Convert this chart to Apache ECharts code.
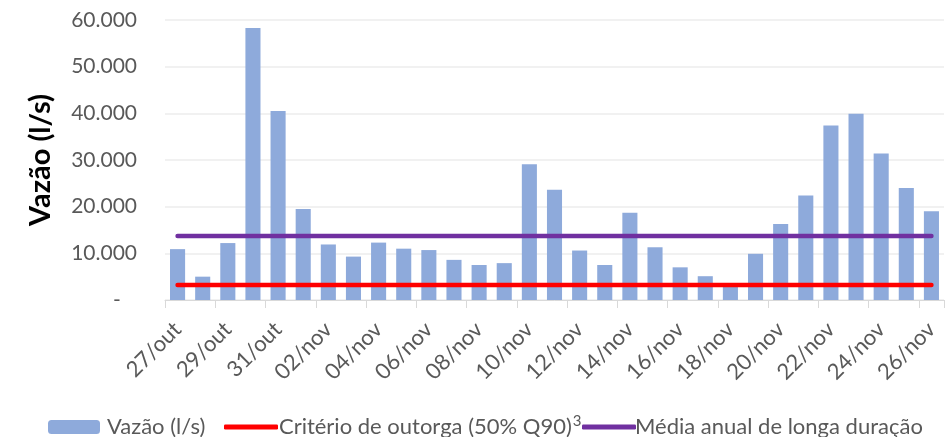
<!DOCTYPE html>
<html>
<head>
<meta charset="utf-8">
<script src="https://cdn.jsdelivr.net/npm/echarts@6/dist/echarts.min.js"></script>
<style>
html,body{margin:0;padding:0;background:#fff;}
#chart{width:949px;height:437px;}
</style>
</head>
<body>
<div id="chart"></div>
<script>
const categories = ["27/out","28/out","29/out","30/out","31/out","01/nov","02/nov","03/nov","04/nov","05/nov","06/nov","07/nov","08/nov","09/nov","10/nov","11/nov","12/nov","13/nov","14/nov","15/nov","16/nov","17/nov","18/nov","19/nov","20/nov","21/nov","22/nov","23/nov","24/nov","25/nov","26/nov"];
const vazao = [10900,5000,12200,58300,40500,19500,11900,9300,12300,11000,10700,8600,7500,7900,29100,23600,10600,7500,18700,11300,7000,5100,2800,9900,16300,22400,37400,39900,31400,24000,19000];
const criterioOutorga = 3200;
const mediaLongaDuracao = 13700;
const criterioSeries = categories.map(() => criterioOutorga);
const mediaSeries = categories.map(() => mediaLongaDuracao);
const yTicks = [0,10000,20000,30000,40000,50000,60000];

const FONT = 'Lato';
function fmt(v){
  if (v === 0) return '-   ';
  return String(v).replace(/\B(?=(\d{3})+(?!\d))/g,'.');
}
const chart = echarts.init(document.getElementById('chart'), null, {renderer:'canvas'});
chart.setOption({
  backgroundColor:'#ffffff',
  animation:false,
  textStyle:{fontFamily:FONT},
  grid:{left:165,right:5,top:20,bottom:137,containLabel:false},
  xAxis:{
    type:'category',
    data:categories,
    boundaryGap:true,
    axisLine:{lineStyle:{color:'#d9d9d9',width:1}},
    axisTick:{show:true,interval:1,length:8,lineStyle:{color:'#d9d9d9'}},
    axisLabel:{interval:1,rotate:45,margin:26,color:'#595959',fontSize:22,fontFamily:FONT}
  },
  yAxis:{
    type:'value',
    min:yTicks[0],max:yTicks[yTicks.length-1],interval:10000,
    name:'Vazão (l/s)',
    nameLocation:'middle',
    nameGap:110,
    nameTextStyle:{fontSize:29,fontWeight:'bold',color:'#000',fontFamily:FONT},
    axisLine:{show:false},
    axisTick:{show:false},
    splitLine:{lineStyle:{color:'#ececec',width:1.5}},
    axisLabel:{formatter:fmt,margin:28,color:'#595959',fontSize:21,fontFamily:FONT}
  },
  legend:[
    {data:['Vazão (l/s)'],left:43,top:411,itemWidth:52,itemHeight:14,
     textStyle:{color:'#595959',fontSize:22,fontFamily:FONT,padding:[0,0,0,2]}},
    {data:[{name:'Critério de outorga (50% Q90)',icon:'roundRect'}],left:219,top:409,itemWidth:54,itemHeight:5,
     formatter:function(n){return '{a|'+n+'}{s|3}';},
     textStyle:{color:'#595959',fontSize:22,fontFamily:FONT,padding:[0,0,0,-4],
       rich:{a:{color:'#595959',fontSize:22,lineHeight:26,fontFamily:FONT},
             s:{color:'#595959',fontSize:15,lineHeight:15,fontFamily:FONT,verticalAlign:'top',padding:[0,0,0,1]}}}},
    {data:[{name:'Média anual de longa duração',icon:'roundRect'}],left:577,top:409,itemWidth:54,itemHeight:5,
     textStyle:{color:'#595959',fontSize:22,fontFamily:FONT,lineHeight:26,padding:[0,0,0,-6]}}
  ],
  series:[
    {name:'Vazão (l/s)',type:'bar',data:vazao,barCategoryGap:'40%',
     itemStyle:{color:'#8eaadb'}},
    {name:'Critério de outorga (50% Q90)',type:'line',data:criterioSeries,symbol:'none',
     lineStyle:{color:'#ff0000',width:4.5,cap:'round'},itemStyle:{color:'#ff0000'}},
    {name:'Média anual de longa duração',type:'line',data:mediaSeries,symbol:'none',
     lineStyle:{color:'#7030a0',width:4.5,cap:'round'},itemStyle:{color:'#7030a0'}}
  ]
});
</script>
</body>
</html>
